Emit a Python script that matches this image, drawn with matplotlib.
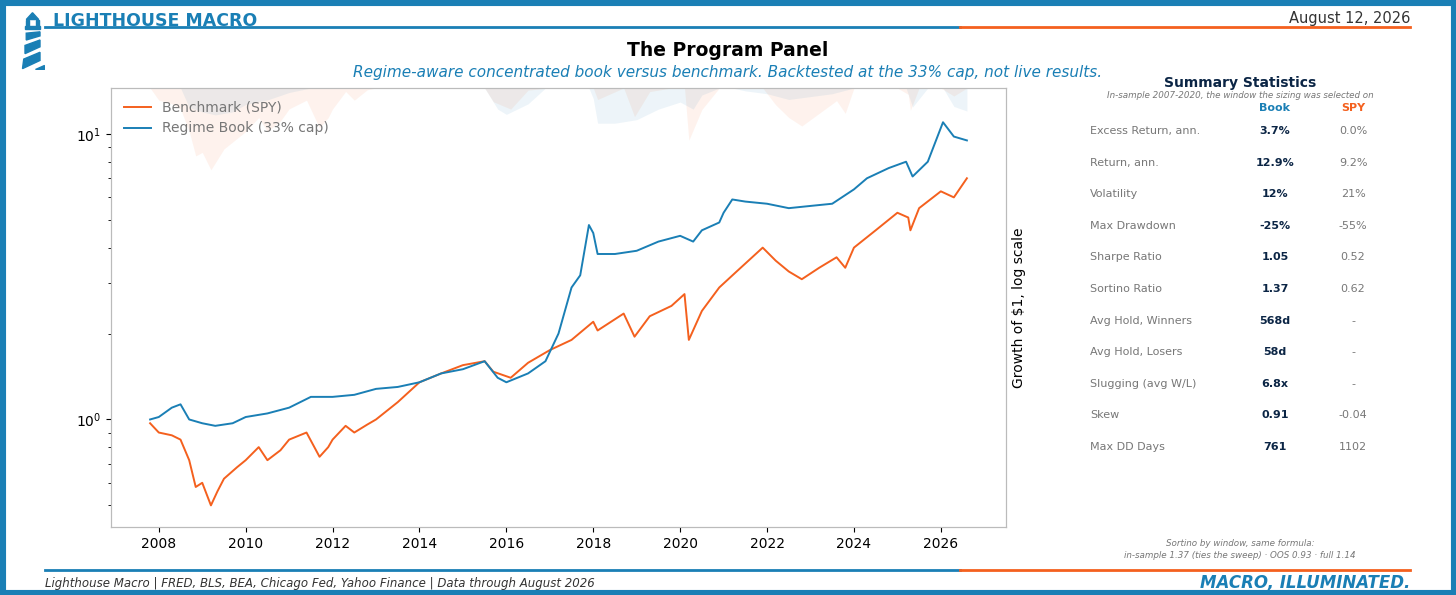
import matplotlib.pyplot as plt
import numpy as np
from matplotlib.patches import Rectangle, Polygon

BLUE = "#1a7fb5"
ORANGE = "#f4601e"
NAVY = "#0b2545"
GREY = "#777777"

# values (decimal year, growth of $1)
spy_t = [2007.8, 2008.0, 2008.3, 2008.5, 2008.7, 2008.85, 2009.0, 2009.2, 2009.35, 2009.5,
         2009.8, 2010.0, 2010.3, 2010.5, 2010.8, 2011.0, 2011.4, 2011.7, 2011.9, 2012.0,
         2012.3, 2012.5, 2012.8, 2013.0, 2013.5, 2014.0, 2014.5, 2015.0, 2015.5, 2015.7,
         2016.1, 2016.5, 2017.0, 2017.5, 2018.0, 2018.1, 2018.7, 2018.95, 2019.3, 2019.8,
         2020.1, 2020.2, 2020.5, 2020.9, 2021.3, 2021.9, 2022.2, 2022.5, 2022.8, 2023.2,
         2023.6, 2023.8, 2024.0, 2024.5, 2025.0, 2025.25, 2025.3, 2025.5, 2026.0, 2026.3, 2026.6]
spy_v = [0.97, 0.90, 0.88, 0.85, 0.72, 0.58, 0.60, 0.50, 0.56, 0.62,
         0.68, 0.72, 0.80, 0.72, 0.78, 0.85, 0.90, 0.74, 0.80, 0.85,
         0.95, 0.90, 0.96, 1.00, 1.15, 1.35, 1.45, 1.55, 1.60, 1.47,
         1.40, 1.58, 1.75, 1.90, 2.20, 2.05, 2.35, 1.95, 2.30, 2.50,
         2.75, 1.90, 2.40, 2.90, 3.30, 4.00, 3.60, 3.30, 3.10, 3.40,
         3.70, 3.40, 4.00, 4.60, 5.30, 5.10, 4.60, 5.50, 6.30, 6.00, 7.00]

book_t = [2007.8, 2008.0, 2008.3, 2008.5, 2008.7, 2009.0, 2009.3, 2009.7, 2010.0, 2010.5,
          2011.0, 2011.5, 2012.0, 2012.5, 2013.0, 2013.5, 2014.0, 2014.5, 2015.0, 2015.5,
          2015.8, 2016.0, 2016.5, 2016.9, 2017.2, 2017.5, 2017.7, 2017.9, 2018.0, 2018.1,
          2018.5, 2019.0, 2019.5, 2020.0, 2020.3, 2020.5, 2020.9, 2021.0, 2021.2, 2021.5,
          2022.0, 2022.5, 2023.0, 2023.5, 2024.0, 2024.3, 2024.8, 2025.2, 2025.35, 2025.7,
          2026.05, 2026.3, 2026.6]
book_v = [1.00, 1.02, 1.10, 1.13, 1.00, 0.97, 0.95, 0.97, 1.02, 1.05,
          1.10, 1.20, 1.20, 1.22, 1.28, 1.30, 1.35, 1.45, 1.50, 1.60,
          1.40, 1.35, 1.45, 1.60, 2.00, 2.90, 3.20, 4.80, 4.50, 3.80,
          3.80, 3.90, 4.20, 4.40, 4.20, 4.60, 4.90, 5.30, 5.90, 5.80,
          5.70, 5.50, 5.60, 5.70, 6.40, 7.00, 7.60, 8.00, 7.10, 8.00,
          11.00, 9.80, 9.50]

stat_labels = ["Excess Return, ann.", "Return, ann.", "Volatility", "Max Drawdown",
               "Sharpe Ratio", "Sortino Ratio", "Avg Hold, Winners", "Avg Hold, Losers",
               "Slugging (avg W/L)", "Skew", "Max DD Days"]
book_stats = ["3.7%", "12.9%", "12%", "-25%", "1.05", "1.37", "568d", "58d", "6.8x", "0.91", "761"]
spy_stats = ["0.0%", "9.2%", "21%", "-55%", "0.52", "0.62", "-", "-", "-", "-0.04", "1102"]


def drawdown(v):
    v = np.asarray(v)
    return v / np.maximum.accumulate(v) - 1


W, H = 1456, 595
fig = plt.figure(figsize=(W / 100, H / 100), dpi=100)


def fx(x):
    return x / W


def fy(y):
    return 1 - y / H


# border frame
fig.patches.append(Rectangle((0, 0), 1, 1, transform=fig.transFigure, fill=False,
                             edgecolor=BLUE, linewidth=8))

# header / footer rules
for y in (27, 570):
    fig.add_artist(plt.Line2D([fx(45), fx(960)], [fy(y), fy(y)], color=BLUE, lw=2))
    fig.add_artist(plt.Line2D([fx(960), fx(1410)], [fy(y), fy(y)], color=ORANGE, lw=2))

# simple lighthouse mark
lh = fig.add_axes([fx(20), fy(70), fx(25), fy(10) - fy(70)])
lh.set_xlim(0, 10)
lh.set_ylim(0, 22)
lh.axis("off")
for pts in ([(2.5, 18.5), (5, 21), (7.5, 18.5)], [(2, 15), (8, 15), (8, 16), (2, 16)],
            [(2.5, 16), (3.5, 16), (3.5, 18.3), (2.5, 18.3)], [(6.5, 16), (7.5, 16), (7.5, 18.3), (6.5, 18.3)],
            [(2.5, 11), (8, 12.5), (8, 14), (2.5, 13.5)], [(2, 6), (8, 8.5), (8, 11), (2, 9)],
            [(1, 0.5), (8, 3.5), (8, 6.5), (1.5, 4)], [(6, 0.5), (9.5, 0.5), (9.5, 2)]):
    lh.add_patch(Polygon(pts, color=BLUE))

fig.text(fx(53), fy(21), "LIGHTHOUSE MACRO", color=BLUE, fontsize=12.5, fontweight="bold", va="center")
fig.text(fx(1410), fy(19), "August 12, 2026", color="#333333", fontsize=10.5, ha="right", va="center")
fig.text(fx(728), fy(51), "The Program Panel", fontsize=13.5, fontweight="bold", ha="center", va="center")
fig.text(fx(728), fy(73), "Regime-aware concentrated book versus benchmark. Backtested at the 33% cap, not live results.",
         fontsize=11, style="italic", color=BLUE, ha="center", va="center")

# main chart
ax = fig.add_axes([fx(111), fy(527), fx(1006) - fx(111), fy(88) - fy(527)])
ax2 = ax.twinx()
ax2.fill_between(spy_t, drawdown(spy_v), 0, color=ORANGE, alpha=0.08, lw=0)
ax2.fill_between(book_t, drawdown(book_v), 0, color=BLUE, alpha=0.08, lw=0)
ax2.set_ylim(-2.6, 0)
ax2.set_yticks([])
ax2.set_ylabel("Growth of $1, log scale", fontsize=10)
ax.set_zorder(ax2.get_zorder() + 1)
ax.patch.set_visible(False)

ax.plot(spy_t, spy_v, color=ORANGE, lw=1.4, label="Benchmark (SPY)")
ax.plot(book_t, book_v, color=BLUE, lw=1.4, label="Regime Book (33% cap)")
ax.set_yscale("log")
ax.set_ylim(0.42, 14.5)
ax.set_xlim(2006.9, 2027.5)
ax.set_xticks(range(2008, 2027, 2))
for a in (ax, ax2):
    for s in a.spines.values():
        s.set_color("#bbbbbb")
leg = ax.legend(loc="upper left", frameon=False, fontsize=10)
for t in leg.get_texts():
    t.set_color(GREY)

# summary table
fig.text(fx(1240), fy(83), "Summary Statistics", fontsize=10, fontweight="bold", color=NAVY, ha="center", va="center")
fig.text(fx(1240), fy(96), "In-sample 2007-2020, the window the sizing was selected on", fontsize=6.3,
         style="italic", color=GREY, ha="center", va="center")
fig.text(fx(1275), fy(108), "Book", fontsize=8, fontweight="bold", color=BLUE, ha="center", va="center")
fig.text(fx(1353), fy(108), "SPY", fontsize=8, fontweight="bold", color=ORANGE, ha="center", va="center")
for i, (lab, b, s) in enumerate(zip(stat_labels, book_stats, spy_stats)):
    y = fy(131 + i * 31.6)
    fig.text(fx(1090), y, lab, fontsize=8, color=GREY, va="center")
    fig.text(fx(1275), y, b, fontsize=8, fontweight="bold", color=NAVY, ha="center", va="center")
    fig.text(fx(1353), y, s, fontsize=8, color=GREY, ha="center", va="center")

fig.text(fx(1240), fy(543), "Sortino by window, same formula:", fontsize=6.3, style="italic", color=GREY, ha="center", va="center")
fig.text(fx(1240), fy(556), "in-sample 1.37 (ties the sweep) · OOS 0.93 · full 1.14", fontsize=6.3,
         style="italic", color=GREY, ha="center", va="center")

fig.text(fx(45), fy(583), "Lighthouse Macro | FRED, BLS, BEA, Chicago Fed, Yahoo Finance | Data through August 2026",
         fontsize=8.5, style="italic", color="#333333", va="center")
fig.text(fx(1410), fy(583), "MACRO, ILLUMINATED.", fontsize=12, fontweight="bold", style="italic",
         color=BLUE, ha="right", va="center")

fig.savefig("out.png", dpi=100)
